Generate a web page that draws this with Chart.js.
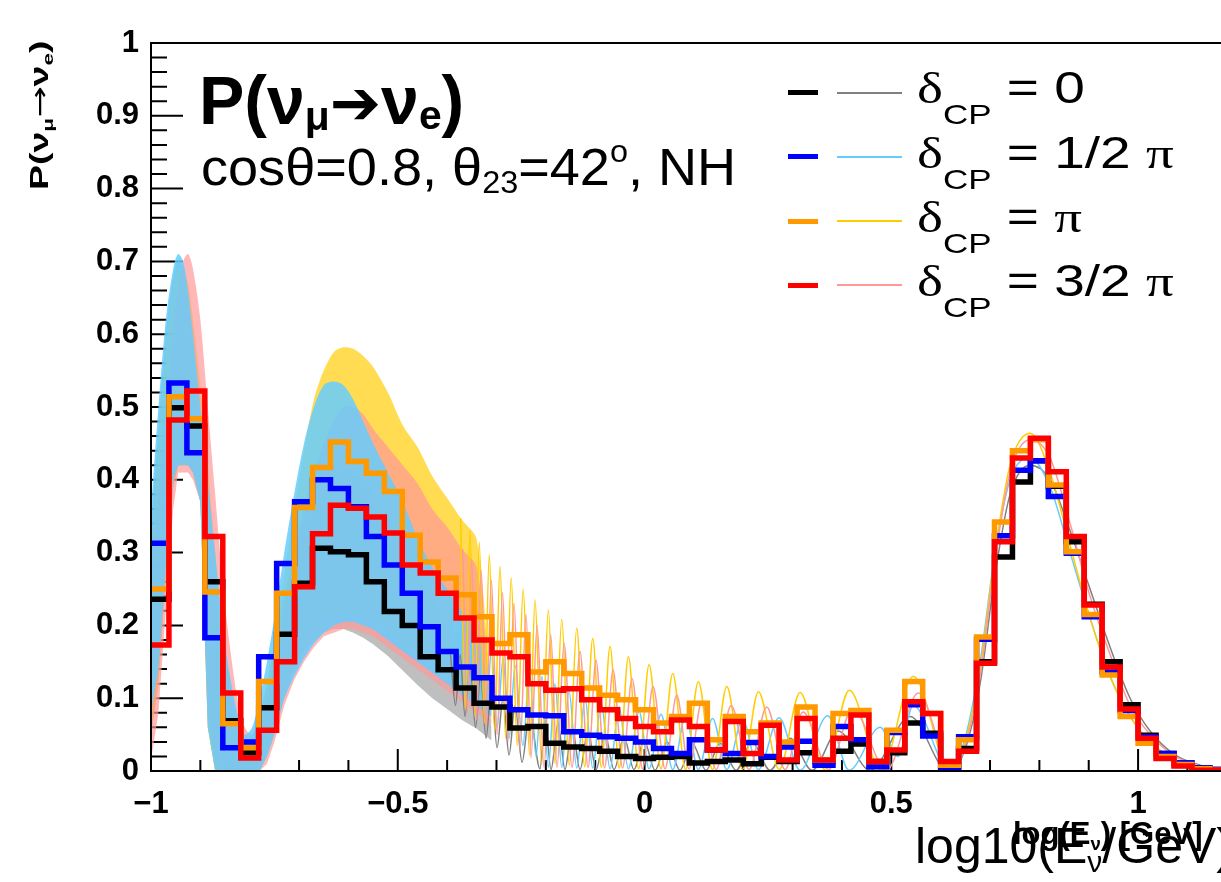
<!DOCTYPE html>
<html>
<head>
<meta charset="utf-8">
<script src="https://cdn.jsdelivr.net/npm/chart.js@4.4.1/dist/chart.umd.min.js"></script>
<style>
  body { margin: 0; background: #fff; width: 1221px; height: 882px; overflow: hidden; position: relative;
         font-family: "Liberation Sans", Arial, sans-serif; }
  canvas { position: absolute; left: 0; top: 0; }
  .t { position: absolute; white-space: nowrap; line-height: 1; color: #000; }
  .sb { font-size: 0.6em; position: relative; top: 0.3em; }
  .sp { font-size: 0.6em; position: relative; top: -0.75em; }
  .gk { font-family: "Liberation Serif", "DejaVu Serif", serif; }
  .ar { font-family: "DejaVu Sans", sans-serif; }
  .leg { left: 917px; font-size: 44px; transform: scaleX(1.25); transform-origin: 0 0; }
  .leg .sb { font-size: 28px; top: 21px; }
  .mk { position: absolute; }
</style>
</head>
<body>
<canvas id="c" width="1221" height="882"></canvas>

<div class="t" style="left:199px;top:66px;font-size:68px;font-weight:bold">P(ν<span class="sb" style="top:0.15em">μ</span><span class="ar" style="font-size:0.9em">➔</span>ν<span class="sb" style="top:0.12em">e</span>)</div>
<div class="t" style="left:201px;top:141px;font-size:52px;transform:scaleX(1.04);transform-origin:0 0">cosθ=0.8, θ<span class="sb" style="top:0.25em">23</span>=42<span class="sp">o</span>, NH</div>

<div class="t" style="left:27px;top:190px;font-size:25px;font-weight:bold;transform:rotate(-90deg) scaleX(1.5);transform-origin:0 0">P(ν<span class="sb">μ</span><span class="ar" style="font-weight:normal">→</span>ν<span class="sb">e</span>)</div>

<div class="t" style="left:915px;top:821px;font-size:50px">log10(E<span class="sb">ν</span>/GeV)</div>
<div class="t" style="left:1013px;top:818px;font-size:31px;font-weight:bold">log(E<span class="sb">ν</span>) [GeV]</div>

<div id="legend"></div>

<script>
// bins: 2/55 wide, starting at log10(E) = -1
const binStart = -1;
const binW = 2 / 55;

// thick histograms, one value per bin
const histBlack = [0.236, 0.499, 0.474, 0.260, 0.069, 0.025, 0.087, 0.188, 0.258, 0.306,
  0.301, 0.297, 0.260, 0.219, 0.200, 0.157, 0.139, 0.114, 0.093, 0.088,
  0.059, 0.061, 0.038, 0.033, 0.031, 0.027, 0.020, 0.017, 0.019, 0.020,
  0.011, 0.013, 0.015, 0.010, 0.019, 0.013, 0.025, 0.013, 0.027, 0.037,
  0.013, 0.025, 0.066, 0.052, 0.006, 0.031, 0.150, 0.294, 0.397, 0.426,
  0.391, 0.315, 0.229, 0.150, 0.091, 0.049, 0.024, 0.011, 0.004, 0.002];
const histBlue = [0.313, 0.533, 0.437, 0.183, 0.032, 0.040, 0.157, 0.285, 0.370, 0.400,
  0.388, 0.363, 0.322, 0.283, 0.244, 0.198, 0.164, 0.143, 0.128, 0.100,
  0.084, 0.077, 0.076, 0.054, 0.049, 0.047, 0.045, 0.040, 0.031, 0.024,
  0.043, 0.029, 0.024, 0.039, 0.020, 0.033, 0.041, 0.008, 0.061, 0.043,
  0.006, 0.053, 0.091, 0.048, 0.005, 0.047, 0.181, 0.323, 0.413, 0.426,
  0.377, 0.299, 0.212, 0.136, 0.083, 0.047, 0.024, 0.011, 0.004, 0.002];
const histOrange = [0.250, 0.514, 0.484, 0.246, 0.065, 0.032, 0.123, 0.244, 0.362, 0.417,
  0.452, 0.425, 0.409, 0.384, 0.324, 0.287, 0.265, 0.242, 0.212, 0.175,
  0.187, 0.136, 0.150, 0.134, 0.114, 0.104, 0.098, 0.084, 0.066, 0.075,
  0.093, 0.043, 0.075, 0.054, 0.066, 0.040, 0.088, 0.015, 0.079, 0.083,
  0.013, 0.056, 0.123, 0.079, 0.008, 0.043, 0.184, 0.342, 0.440, 0.455,
  0.393, 0.301, 0.215, 0.132, 0.075, 0.038, 0.020, 0.009, 0.003, 0.001];
const histRed = [0.173, 0.482, 0.522, 0.322, 0.107, 0.018, 0.056, 0.150, 0.253, 0.326,
  0.365, 0.361, 0.349, 0.327, 0.283, 0.272, 0.244, 0.210, 0.180, 0.162,
  0.157, 0.120, 0.111, 0.113, 0.098, 0.084, 0.072, 0.061, 0.054, 0.070,
  0.061, 0.029, 0.068, 0.024, 0.063, 0.015, 0.072, 0.015, 0.045, 0.077,
  0.013, 0.029, 0.095, 0.079, 0.013, 0.027, 0.148, 0.315, 0.430, 0.457,
  0.411, 0.322, 0.228, 0.143, 0.085, 0.045, 0.017, 0.007, 0.001, 0.001];

// fast oscillation region: upper / lower envelope of the thin curves
const bandX = [-1, -0.985, -0.97, -0.955, -0.945, -0.935, -0.925, -0.915, -0.9, -0.885,
  -0.87, -0.855, -0.84, -0.825, -0.81, -0.795, -0.78, -0.765, -0.75, -0.73,
  -0.71, -0.69, -0.67, -0.65, -0.63, -0.61, -0.59, -0.57, -0.55, -0.52,
  -0.49, -0.46, -0.43, -0.40, -0.37, -0.34, -0.31];
const grayHi = [0.33, 0.47, 0.60, 0.68, 0.70, 0.69, 0.65, 0.58, 0.48, 0.37,
  0.27, 0.18, 0.11, 0.06, 0.04, 0.05, 0.08, 0.12, 0.17, 0.24,
  0.30, 0.35, 0.39, 0.41, 0.42, 0.42, 0.41, 0.40, 0.38, 0.35,
  0.31, 0.27, 0.24, 0.21, 0.18, 0.16, 0.06];
const grayLo = [0.05, 0.12, 0.27, 0.39, 0.42, 0.42, 0.42, 0.41, 0.37, 0.06,
  0, 0, 0, 0, 0, 0, 0, 0.03, 0.06, 0.11,
  0.14, 0.165, 0.18, 0.19, 0.195, 0.195, 0.19, 0.183, 0.174, 0.158,
  0.138, 0.118, 0.10, 0.085, 0.07, 0.058, 0.042];
const blueHi = [0.36, 0.50, 0.62, 0.69, 0.71, 0.70, 0.66, 0.60, 0.50, 0.40,
  0.30, 0.20, 0.13, 0.08, 0.05, 0.06, 0.10, 0.15, 0.21, 0.30,
  0.38, 0.45, 0.50, 0.53, 0.535, 0.53, 0.51, 0.48, 0.45, 0.41,
  0.37, 0.32, 0.28, 0.25, 0.22, 0.19, 0.09];
const blueLo = [0.08, 0.14, 0.28, 0.40, 0.42, 0.42, 0.42, 0.41, 0.37, 0.06,
  0, 0, 0, 0, 0, 0, 0, 0.02, 0.05, 0.10,
  0.13, 0.155, 0.175, 0.19, 0.20, 0.205, 0.205, 0.20, 0.195, 0.18,
  0.165, 0.15, 0.135, 0.12, 0.105, 0.09, 0.075];
const yelHi = [0.30, 0.45, 0.58, 0.66, 0.69, 0.69, 0.67, 0.62, 0.53, 0.42,
  0.30, 0.20, 0.12, 0.07, 0.04, 0.04, 0.07, 0.12, 0.18, 0.27,
  0.36, 0.44, 0.51, 0.55, 0.575, 0.582, 0.58, 0.57, 0.555, 0.52,
  0.475, 0.445, 0.405, 0.375, 0.345, 0.318, 0.10];
const yelLo = [0.05, 0.12, 0.27, 0.39, 0.42, 0.42, 0.42, 0.41, 0.37, 0.06,
  0, 0, 0, 0, 0, 0, 0, 0.02, 0.05, 0.10,
  0.14, 0.165, 0.185, 0.20, 0.21, 0.215, 0.215, 0.21, 0.205, 0.19,
  0.175, 0.16, 0.145, 0.13, 0.115, 0.10, 0.085];
const pinkHi = [0.28, 0.38, 0.50, 0.61, 0.67, 0.70, 0.71, 0.69, 0.62, 0.50,
  0.38, 0.26, 0.17, 0.10, 0.06, 0.05, 0.07, 0.10, 0.15, 0.22,
  0.30, 0.36, 0.41, 0.45, 0.48, 0.50, 0.50, 0.49, 0.47, 0.445,
  0.42, 0.395, 0.36, 0.335, 0.305, 0.28, 0.085];
const pinkLo = [0.015, 0.08, 0.22, 0.36, 0.41, 0.41, 0.41, 0.40, 0.37, 0.08,
  0.01, 0, 0, 0, 0, 0, 0, 0.01, 0.04, 0.09,
  0.125, 0.15, 0.17, 0.185, 0.19, 0.195, 0.195, 0.19, 0.185, 0.17,
  0.155, 0.14, 0.125, 0.11, 0.095, 0.08, 0.065];

// slower oscillations: peaks and troughs
const grayWaveX = [-0.3931, -0.3830, -0.3738, -0.3637, -0.3536, -0.3424, -0.3323, -0.3212, -0.3100, -0.2989,
  -0.2867, -0.2745, -0.2624, -0.2482, -0.2330, -0.2118, -0.2016, -0.1895, -0.1753, -0.1611,
  -0.1469, -0.1307, -0.1145, -0.0983, -0.0801, -0.0618, -0.0416, -0.0213, -0.0010, 0.0213,
  0.0456, 0.0719, 0.0963, 0.1246, 0.1530, 0.1854, 0.2178, 0.2543, 0.2948, 0.3394,
  0.3921, 0.4569, 0.5380, 0.6150];
const grayWaveY = [0.16, 0.09, 0.16, 0.075, 0.145, 0.06, 0.13, 0.045, 0.115, 0.032,
  0.10, 0.022, 0.09, 0.012, 0.08, 0.003, 0.07, 0.002, 0.065, 0.002,
  0.06, 0.002, 0.055, 0.002, 0.05, 0.002, 0.046, 0.002, 0.042, 0.001,
  0.04, 0.001, 0.038, 0.001, 0.038, 0.001, 0.04, 0.001, 0.045, 0.001,
  0.055, 0.001, 0.075, 0.0];
const blueWaveX = [-0.3921, -0.3819, -0.3728, -0.3627, -0.3535, -0.3434, -0.3322, -0.3220, -0.3099, -0.2988,
  -0.2866, -0.2744, -0.2622, -0.2465, -0.2330, -0.2199, -0.2077, -0.1949, -0.1814, -0.1678,
  -0.1530, -0.1374, -0.1206, -0.1050, -0.0881, -0.0699, -0.0517, -0.0328, -0.0111, 0.0091,
  0.0334, 0.0571, 0.0831, 0.1090, 0.1378, 0.1666, 0.1986, 0.2306, 0.2725, 0.3151,
  0.3711, 0.4144, 0.4772, 0.5137, 0.5441, 0.6191];
const blueWaveY = [0.23, 0.11, 0.21, 0.10, 0.195, 0.09, 0.18, 0.075, 0.165, 0.06,
  0.155, 0.045, 0.145, 0.035, 0.135, 0.02, 0.13, 0.005, 0.12, 0.005,
  0.11, 0.004, 0.10, 0.004, 0.094, 0.003, 0.088, 0.003, 0.082, 0.003,
  0.078, 0.002, 0.075, 0.002, 0.072, 0.002, 0.071, 0.002, 0.073, 0.001,
  0.076, 0.001, 0.06, 0.02, 0.09, 0.0];
const yelWaveX = [-0.3726, -0.3630, -0.3538, -0.3440, -0.3349, -0.3245, -0.3146, -0.3036, -0.2928, -0.2815,
  -0.2702, -0.2581, -0.2459, -0.2330, -0.2219, -0.2083, -0.1949, -0.1814, -0.1678, -0.1526,
  -0.1374, -0.1212, -0.1050, -0.0875, -0.0699, -0.0513, -0.0328, -0.0118, 0.0091, 0.0332,
  0.0571, 0.0831, 0.1090, 0.1378, 0.1666, 0.1986, 0.2306, 0.2729, 0.3151, 0.3651,
  0.4150, 0.4792, 0.5447, 0.6191];
const yelWaveY = [0.347, 0.085, 0.331, 0.075, 0.314, 0.065, 0.297, 0.055, 0.281, 0.045,
  0.265, 0.035, 0.25, 0.022, 0.235, 0.01, 0.221, 0.01, 0.208, 0.008,
  0.196, 0.006, 0.182, 0.005, 0.171, 0.004, 0.157, 0.003, 0.146, 0.003,
  0.134, 0.002, 0.123, 0.002, 0.116, 0.002, 0.109, 0.002, 0.108, 0.002,
  0.111, 0.001, 0.130, 0.0];
const pinkWaveX = [-0.3685, -0.3592, -0.3503, -0.3402, -0.3310, -0.3209, -0.3103, -0.2989, -0.2878, -0.2765,
  -0.2645, -0.2523, -0.2400, -0.2300, -0.2178, -0.2036, -0.1901, -0.1773, -0.1631, -0.1469,
  -0.1307, -0.1145, -0.0983, -0.0811, -0.0638, -0.0446, -0.0253, -0.0041, 0.0172, 0.0415,
  0.0652, 0.0902, 0.1159, 0.1449, 0.1753, 0.2118, 0.2476, 0.2847, 0.3212, 0.3730,
  0.4215, 0.4904, 0.5548, 0.6231];
const pinkWaveY = [0.305, 0.08, 0.29, 0.07, 0.276, 0.06, 0.262, 0.05, 0.245, 0.04,
  0.23, 0.03, 0.215, 0.018, 0.2, 0.005, 0.187, 0.005, 0.175, 0.005,
  0.164, 0.005, 0.152, 0.004, 0.139, 0.004, 0.127, 0.003, 0.116, 0.003,
  0.104, 0.003, 0.095, 0.002, 0.09, 0.002, 0.088, 0.002, 0.081, 0.002,
  0.086, 0.001, 0.107, 0.0];

// smooth part around the high energy peak
const tailX = [0.6495, 0.6799, 0.7102, 0.7406, 0.7812, 0.8217, 0.8622, 0.9027, 0.9433, 0.9838, 1.0243, 1.0750, 1.1256, 1.1682];
const grayTail = [0.03, 0.12, 0.27, 0.38, 0.42, 0.40, 0.33, 0.25, 0.17, 0.10, 0.055, 0.022, 0.008, 0.003];
const blueTail = [0.045, 0.15, 0.30, 0.40, 0.43, 0.39, 0.30, 0.21, 0.13, 0.075, 0.04, 0.016, 0.005, 0.002];
const yelTail = [0.04, 0.14, 0.30, 0.42, 0.464, 0.41, 0.31, 0.21, 0.13, 0.075, 0.04, 0.015, 0.005, 0.002];
const pinkTail = [0.035, 0.13, 0.29, 0.41, 0.455, 0.43, 0.34, 0.24, 0.16, 0.09, 0.05, 0.02, 0.007, 0.002];

const legendRows = [
  { thick: '#000000', thin: '#808080', value: '0' },
  { thick: '#0000ff', thin: '#66ccff', value: '1/2 <span class="gk">π</span>' },
  { thick: '#ff9900', thin: '#ffcc00', value: '<span class="gk">π</span>' },
  { thick: '#ff0000', thin: '#ff9999', value: '3/2 <span class="gk">π</span>' }
];

// legend (html, so the sub-scripts work)
const legBox = document.getElementById('legend');
legendRows.forEach((r, i) => {
  const base = 103.5 + i * 64.2;
  legBox.insertAdjacentHTML('beforeend',
    `<div class="mk" style="left:788px;top:${base - 13.3}px;width:30px;height:5px;background:${r.thick}"></div>` +
    `<div class="mk" style="left:837px;top:${base - 11.8}px;width:65px;height:2px;background:${r.thin}"></div>` +
    `<div class="t leg" style="top:${base - 37.2}px"><span class="gk">δ</span><span class="sb">CP</span> = ${r.value}</div>`);
});

const pts = (xs, ys) => xs.map((x, i) => ({ x: x, y: ys[i] }));

function histPoints(vals) {
  const p = vals.map((v, k) => ({ x: binStart + k * binW, y: v }));
  p.push({ x: binStart + vals.length * binW, y: vals[vals.length - 1] });
  return p;
}

const datasets = [];

function addBand(lo, hi, color, order) {
  datasets.push({ data: pts(bandX, lo), borderWidth: 0, pointRadius: 0, fill: false, order: order });
  datasets.push({ data: pts(bandX, hi), borderWidth: 0, pointRadius: 0, fill: '-1', backgroundColor: color,
    tension: 0.3, order: order });
}
function addWave(xs, ys, color, order) {
  datasets.push({ data: pts(xs.concat(tailX), ys), borderColor: color, borderWidth: 1.5, pointRadius: 0,
    fill: false, cubicInterpolationMode: 'monotone', order: order });
}
function addHist(vals, color, order) {
  datasets.push({ data: histPoints(vals), borderColor: color, borderWidth: 5.5, pointRadius: 0, fill: false,
    stepped: 'before', borderJoinStyle: 'miter', borderCapStyle: 'butt', order: order });
}

// lower order is drawn on top
addBand(grayLo, grayHi, 'rgba(128,128,128,0.5)', 40);
addBand(yelLo, yelHi, 'rgba(255,204,0,0.68)', 39);
addBand(pinkLo, pinkHi, 'rgba(255,153,153,0.7)', 38);
addBand(blueLo, blueHi, 'rgba(102,204,255,0.85)', 37);
addWave(grayWaveX, grayWaveY.concat(grayTail), '#808080', 20);
addWave(blueWaveX, blueWaveY.concat(blueTail), '#66ccff', 19);
addWave(yelWaveX, yelWaveY.concat(yelTail), '#ffcc00', 18);
addWave(pinkWaveX, pinkWaveY.concat(pinkTail), '#ff9999', 17);
addHist(histBlack, '#000000', 4);
addHist(histBlue, '#0000ff', 3);
addHist(histOrange, '#ff9900', 2);
addHist(histRed, '#ff0000', 1);

// ROOT style frame: ticks inside, top line
const frame = {
  id: 'frame',
  beforeDatasetsDraw(chart) {
    const { ctx, chartArea: a, scales: { x, y } } = chart;
    ctx.save();
    ctx.strokeStyle = '#000';
    ctx.lineWidth = 2;
    ctx.beginPath();
    for (let i = -10; i <= 11; i++) {
      const px = x.getPixelForValue(i / 10);
      if (px > a.right) continue;
      const len = i % 5 === 0 ? 22 : 11;
      ctx.moveTo(px, a.bottom);
      ctx.lineTo(px, a.bottom - len);
    }
    for (let i = 0; i <= 50; i++) {
      const py = y.getPixelForValue(i / 50);
      const len = i % 5 === 0 ? 32 : 16;
      ctx.moveTo(a.left, py);
      ctx.lineTo(a.left + len, py);
    }
    ctx.stroke();
    ctx.restore();
  },
  afterDatasetsDraw(chart) {
    const { ctx, chartArea: a } = chart;
    ctx.save();
    ctx.strokeStyle = '#000';
    ctx.lineWidth = 2;
    ctx.beginPath();
    ctx.moveTo(a.right, a.top);
    ctx.lineTo(a.left, a.top);
    ctx.lineTo(a.left, a.bottom);
    ctx.lineTo(a.right, a.bottom);
    ctx.stroke();
    ctx.restore();
  }
};

const tickFont = { family: "'Liberation Sans', Arial, sans-serif", size: 31, weight: 'bold' };

new Chart(document.getElementById('c'), {
  type: 'line',
  data: { datasets: datasets },
  options: {
    responsive: false,
    animation: false,
    events: [],
    devicePixelRatio: 1,
    layout: { autoPadding: false, padding: { left: 0, right: 0, top: 43, bottom: 0 } },
    plugins: { legend: { display: false }, tooltip: { enabled: false } },
    scales: {
      x: {
        type: 'linear', min: -1, max: 1.168,
        grid: { display: false, drawTicks: false },
        border: { display: false },
        afterFit: s => { s.height = 111; },
        ticks: {
          stepSize: 0.5, includeBounds: false, maxRotation: 0, autoSkip: false,
          padding: 15, color: '#000', font: tickFont,
          callback: v => (v < 0 ? '\u2212' + Math.abs(v) : String(v))
        }
      },
      y: {
        min: 0, max: 1,
        grid: { display: false, drawTicks: false },
        border: { display: false },
        afterFit: s => { s.width = 151; },
        ticks: {
          stepSize: 0.1, padding: 12, color: '#000', font: tickFont,
          callback: v => String(Math.round(v * 10) / 10)
        }
      }
    }
  },
  plugins: [frame]
});
</script>
</body>
</html>
